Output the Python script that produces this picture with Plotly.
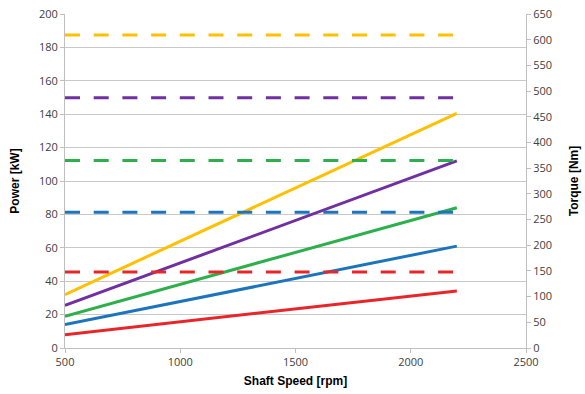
import plotly.graph_objects as go

# shaft speed range of each curve [rpm]
speed = [500, 2200]

colors = ["#FFC000", "#7030A0", "#2DB04C", "#1C75BC", "#E8262A"]

# power at start / end speed [kW]
power_yellow = [32, 140.5]
power_purple = [25.5, 112]
power_green = [19, 84]
power_blue = [14, 61]
power_red = [8, 34.2]

# constant torque [Nm]
torque_yellow = [609, 609]
torque_purple = [487, 487]
torque_green = [365, 365]
torque_blue = [264, 264]
torque_red = [148, 148]

powers = [power_yellow, power_purple, power_green, power_blue, power_red]
torques = [torque_yellow, torque_purple, torque_green, torque_blue, torque_red]

fig = go.Figure()

for p, c in zip(powers, colors):
    fig.add_trace(go.Scatter(x=speed, y=p, mode="lines", yaxis="y",
                             line=dict(color=c, width=3), showlegend=False))

for t, c in zip(torques, colors):
    fig.add_trace(go.Scatter(x=speed, y=t, mode="lines", yaxis="y2",
                             line=dict(color=c, width=3, dash="15px,13.7px"),
                             showlegend=False))

tick_font = dict(family="Open Sans, Liberation Sans, sans-serif", size=11, color="#404040")
title_font = dict(family="Liberation Sans, Arial, sans-serif", size=12, color="black")

fig.update_layout(
    width=585,
    height=394,
    margin=dict(l=65, r=59, t=14, b=46, autoexpand=False),
    paper_bgcolor="white",
    plot_bgcolor="white",
    xaxis=dict(
        range=[500, 2500], dtick=500, showgrid=False, zeroline=False,
        showline=True, linecolor="#BFBFBF", linewidth=1, automargin=False,
        ticks="outside", ticklen=4, tickcolor="#BFBFBF",
        tickfont=tick_font,
        title=dict(text="<b>Shaft Speed [rpm]</b>", font=title_font, standoff=8),
    ),
    yaxis=dict(
        range=[0, 200], dtick=20, showgrid=True, gridcolor="#C8C8C8",
        zeroline=False, showline=True, linecolor="#BFBFBF", linewidth=1,
        ticks="outside", ticklen=4, tickcolor="#BFBFBF", automargin=False,
        tickfont=tick_font,
        title=dict(text="<b>Power [kW]</b>", font=title_font, standoff=16),
    ),
    yaxis2=dict(
        range=[0, 650], dtick=50, overlaying="y", side="right",
        showgrid=False, zeroline=False, showline=True,
        linecolor="#BFBFBF", linewidth=1, automargin=False,
        ticks="outside", ticklen=4, tickcolor="#BFBFBF",
        tickfont=tick_font,
        title=dict(text="<b>Torque [Nm]</b>", font=title_font, standoff=18),
    ),
)

fig.write_html("out.html", config={"displayModeBar": False},
               post_script="document.body.style.margin='0';")
